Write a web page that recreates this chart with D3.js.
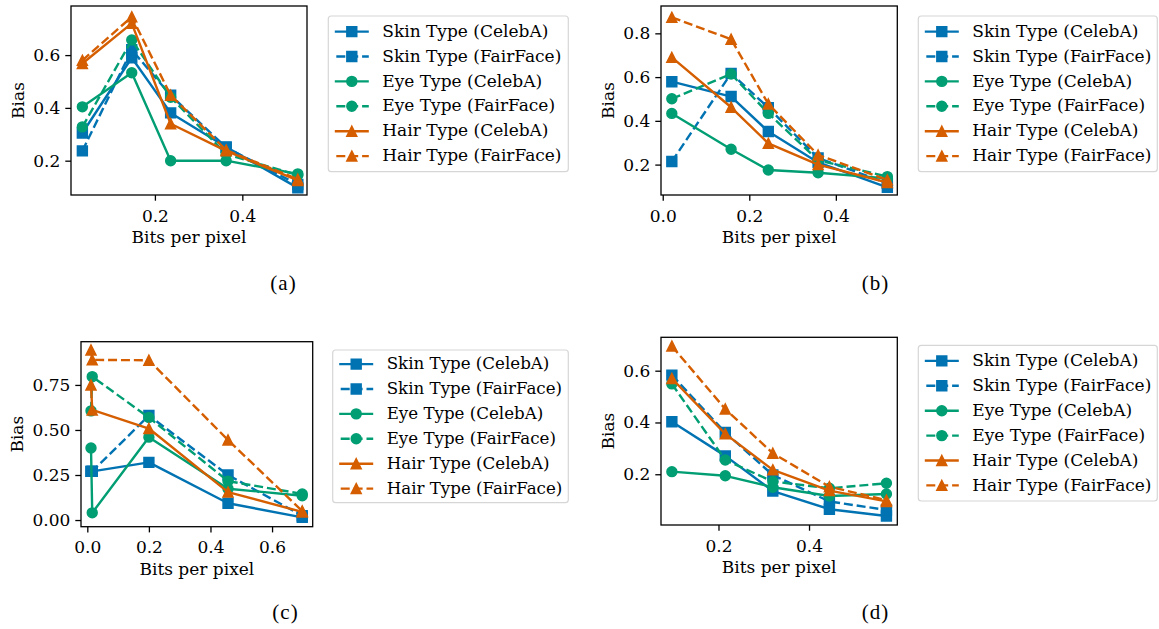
<!DOCTYPE html>
<html>
<head>
<meta charset="utf-8">
<script src="https://cdn.jsdelivr.net/npm/d3@7"></script>
<style>
body { margin: 0; background: #fff; }
svg text { font-family: "DejaVu Serif", serif; fill: #000; }
</style>
</head>
<body>
<div id="chart"></div>
<script>

var seriesNames = ["Skin Type (CelebA)", "Skin Type (FairFace)", "Eye Type (CelebA)",
                   "Eye Type (FairFace)", "Hair Type (CelebA)", "Hair Type (FairFace)"];

// (a)
var bppA = [0.034, 0.147, 0.236, 0.363, 0.527];
var biasA = [
	[0.305, 0.59, 0.381, 0.252, 0.097],
	[0.237, 0.62, 0.448, 0.25, 0.11],
	[0.404, 0.533, 0.2, 0.2, 0.15],
	[0.328, 0.657, 0.44, 0.225, 0.145],
	[0.568, 0.72, 0.34, 0.237, 0.125],
	[0.58, 0.745, 0.448, 0.24, 0.13]
];
var xTicksA = [0.2, 0.4];
var yTicksA = [0.2, 0.4, 0.6];

// (b)
var bppB = [0.021, 0.158, 0.244, 0.359, 0.519];
var biasB = [
	[0.579, 0.511, 0.351, 0.21, 0.096],
	[0.214, 0.617, 0.46, 0.23, 0.115],
	[0.434, 0.27, 0.175, 0.163, 0.137],
	[0.501, 0.614, 0.434, 0.22, 0.145],
	[0.69, 0.462, 0.297, 0.2, 0.118],
	[0.873, 0.773, 0.477, 0.244, 0.13]
];
var xTicksB = [0.0, 0.2, 0.4];
var yTicksB = [0.2, 0.4, 0.6, 0.8];

// (c)
var bppC = [0.012, 0.016, 0.2, 0.457, 0.698];
var biasC = [
	[0.27, 0.27, 0.32, 0.093, 0.015],
	[0.27, 0.27, 0.58, 0.25, 0.024],
	[0.40, 0.04, 0.46, 0.174, 0.135],
	[0.606, 0.796, 0.569, 0.216, 0.145],
	[0.75, 0.611, 0.508, 0.155, 0.045],
	[0.944, 0.889, 0.887, 0.444, 0.05]
];
var xTicksC = [0.0, 0.2, 0.4, 0.6];
var yTicksC = [0.0, 0.25, 0.5, 0.75];

// (d)
var bppD = [0.097, 0.215, 0.32, 0.445, 0.571];
var biasD = [
	[0.403, 0.271, 0.135, 0.065, 0.039],
	[0.583, 0.361, 0.197, 0.095, 0.062],
	[0.21, 0.194, 0.15, 0.116, 0.124],
	[0.549, 0.255, 0.172, 0.146, 0.165],
	[0.57, 0.356, 0.217, 0.137, 0.095],
	[0.695, 0.452, 0.281, 0.152, 0.1]
];
var xTicksD = [0.2, 0.4];
var yTicksD = [0.2, 0.4, 0.6];

var captions = ["(a)", "(b)", "(c)", "(d)"];

// styles
var seriesColors = ["#0173b2", "#0173b2", "#029e73", "#029e73", "#d55e00", "#d55e00"];
var seriesDashed = [false, true, false, true, false, true];
var seriesMarkers = ["square", "square", "circle", "circle", "triangle", "triangle"];


function markerPath(type, s)
{
	var h = s / 2;
	if (type == "square")
		return "M" + (-h) + "," + (-h) + "H" + h + "V" + h + "H" + (-h) + "Z";
	if (type == "triangle")
		return "M0," + (-h) + "L" + h + "," + h + "L" + (-h) + "," + h + "Z";
	return "M" + h + ",0A" + h + "," + h + " 0 1,1 " + (-h) + ",0A" + h + "," + h + " 0 1,1 " + h + ",0Z";
}


function BiasPanel(svg, configuration)
{
	this.svg = svg;

	var self = this; // for d3 callbacks

	this.configure = function(configuration)
	{
		this.config = configuration;

		this.x = d3.scaleLinear()
					.domain(this.config.xDomain)
					.range([this.config.left, this.config.right]);

		this.y = d3.scaleLinear()
					.domain(this.config.yDomain)
					.range([this.config.bottom, this.config.top]);

		this.lineWidth = 2.4;
		this.markerSize = 9.8;
		this.fontSize = 17;
	}

	this.render = function()
	{
		var c = this.config;
		var g = this.svg.append("g");

		var clipId = "clip-" + c.caption.replace(/[()]/g, "");
		g.append("clipPath")
			.attr("id", clipId)
			.append("rect")
			.attr("x", c.left)
			.attr("y", c.top)
			.attr("width", c.right - c.left)
			.attr("height", c.bottom - c.top);

		var line = d3.line()
					.x(function(d) { return self.x(d[0]); })
					.y(function(d) { return self.y(d[1]); });

		var plot = g.append("g").attr("clip-path", "url(#" + clipId + ")");

		c.bias.forEach(function(values, i) {
			var pts = values.map(function(v, j) { return [c.bpp[j], v]; });

			plot.append("path")
				.attr("d", line(pts))
				.attr("fill", "none")
				.attr("stroke", seriesColors[i])
				.attr("stroke-width", self.lineWidth)
				.attr("stroke-linejoin", "round")
				.attr("stroke-dasharray", seriesDashed[i] ? "9,3.9" : null);

			plot.selectAll(null)
				.data(pts)
				.enter()
				.append("path")
				.attr("transform", function(d) { return "translate(" + self.x(d[0]) + "," + self.y(d[1]) + ")"; })
				.attr("d", markerPath(seriesMarkers[i], self.markerSize))
				.attr("fill", seriesColors[i])
				.attr("stroke", seriesColors[i])
				.attr("stroke-width", 1.6);
		});

		// axes
		var xAxis = g.append("g")
					.attr("transform", "translate(0," + c.bottom + ")")
					.call(d3.axisBottom(this.x)
						.tickValues(c.xTicks)
						.tickFormat(d3.format(".1f"))
						.tickSize(5.7)
						.tickPadding(8.9));

		var yAxis = g.append("g")
					.attr("transform", "translate(" + c.left + ",0)")
					.call(d3.axisLeft(this.y)
						.tickValues(c.yTicks)
						.tickFormat(d3.format(c.yFormat))
						.tickSize(5.7)
						.tickPadding(5));

		[xAxis, yAxis].forEach(function(a) {
			a.select(".domain").remove();
			a.selectAll(".tick line").attr("stroke", "#000").attr("stroke-width", 1.3);
			a.selectAll(".tick text")
				.style("font-family", "DejaVu Serif")
				.style("font-size", self.fontSize + "px")
				.attr("fill", "#000");
		});

		g.append("rect")
			.attr("x", c.left)
			.attr("y", c.top)
			.attr("width", c.right - c.left)
			.attr("height", c.bottom - c.top)
			.attr("fill", "none")
			.attr("stroke", "#000")
			.attr("stroke-width", 1.3);

		g.append("text")
			.attr("x", (c.left + c.right) / 2)
			.attr("y", c.bottom + 48)
			.attr("text-anchor", "middle")
			.style("font-size", this.fontSize + "px")
			.text("Bits per pixel");

		var yb = yAxis.node().getBBox();
		g.append("text")
			.attr("transform", "translate(" + (c.left + yb.x - 9.5) + "," + ((c.top + c.bottom) / 2) + ") rotate(-90)")
			.attr("text-anchor", "middle")
			.style("font-size", this.fontSize + "px")
			.text("Bias");

		// legend
		var L = c.legend;
		var lg = g.append("g");

		lg.append("rect")
			.attr("x", L.x)
			.attr("y", L.y)
			.attr("width", L.w)
			.attr("height", L.h)
			.attr("rx", 3)
			.attr("fill", "#fff")
			.attr("fill-opacity", 0.8)
			.attr("stroke", "#d6d6d6")
			.attr("stroke-width", 1.2);

		var rowGap = 24.9;
		var first = L.y + (L.h - 5 * rowGap) / 2;

		seriesNames.forEach(function(name, i) {
			var ry = first + i * rowGap;

			lg.append("line")
				.attr("x1", L.x + 6.5)
				.attr("x2", L.x + 40.5)
				.attr("y1", ry)
				.attr("y2", ry)
				.attr("stroke", seriesColors[i])
				.attr("stroke-width", self.lineWidth)
				.attr("stroke-dasharray", seriesDashed[i] ? "9,3.9" : null)
				.attr("stroke-dashoffset", seriesDashed[i] ? -1.5 : null);

			lg.append("path")
				.attr("transform", "translate(" + (L.x + 23.5) + "," + ry + ")")
				.attr("d", markerPath(seriesMarkers[i], self.markerSize))
				.attr("fill", seriesColors[i])
				.attr("stroke", seriesColors[i])
				.attr("stroke-width", 1.6);

			lg.append("text")
				.attr("x", L.x + 54)
				.attr("y", ry)
				.attr("dy", "0.3em")
				.style("font-size", (self.fontSize * L.fs) + "px")
				.text(name);
		});

		// sub caption
		g.append("text")
			.attr("x", c.captionX + 0.5)
			.attr("y", c.captionY)
			.attr("text-anchor", "middle")
			.style("font-family", "Liberation Serif")
			.style("font-size", "21px")
			.style("letter-spacing", "1px")
			.text(c.caption);
	}

	// initialization
	this.configure(configuration);
}


var svg = d3.select("#chart")
			.append("svg")
			.attr("width", 1159)
			.attr("height", 629);

var panels = [
	{ bpp: bppA, bias: biasA, xTicks: xTicksA, yTicks: yTicksA, yFormat: ".1f",
	  xDomain: [0.008, 0.548], yDomain: [0.07, 0.786],
	  left: 71, right: 307, top: 6, bottom: 195,
	  legend: { x: 328.3, y: 16, w: 240, h: 155.7, fs: 1 },
	  caption: captions[0], captionX: 283, captionY: 290 },
	{ bpp: bppB, bias: biasB, xTicks: xTicksB, yTicks: yTicksB, yFormat: ".1f",
	  xDomain: [-0.004, 0.542], yDomain: [0.061, 0.925],
	  left: 661, right: 897.3, top: 6, bottom: 195,
	  legend: { x: 918.3, y: 16, w: 239, h: 155.7, fs: 1 },
	  caption: captions[1], captionX: 875, captionY: 290 },
	{ bpp: bppC, bias: biasC, xTicks: xTicksC, yTicks: yTicksC, yFormat: ".2f",
	  xDomain: [-0.0205, 0.732], yDomain: [-0.037, 0.99],
	  left: 81, right: 312.7, top: 341.7, bottom: 526.7,
	  legend: { x: 332.7, y: 350, w: 235.6, h: 152.7, fs: 0.98 },
	  caption: captions[2], captionX: 285, captionY: 619 },
	{ bpp: bppD, bias: biasD, xTicks: xTicksD, yTicks: yTicksD, yFormat: ".1f",
	  xDomain: [0.073, 0.595], yDomain: [0.004, 0.729],
	  left: 661, right: 897.3, top: 337.3, bottom: 525,
	  legend: { x: 918.3, y: 345.3, w: 239, h: 155.7, fs: 1 },
	  caption: captions[3], captionX: 875, captionY: 619 }
];

panels.forEach(function(p) {
	var panel = new BiasPanel(svg, p);
	panel.render();
});

</script>
</body>
</html>
